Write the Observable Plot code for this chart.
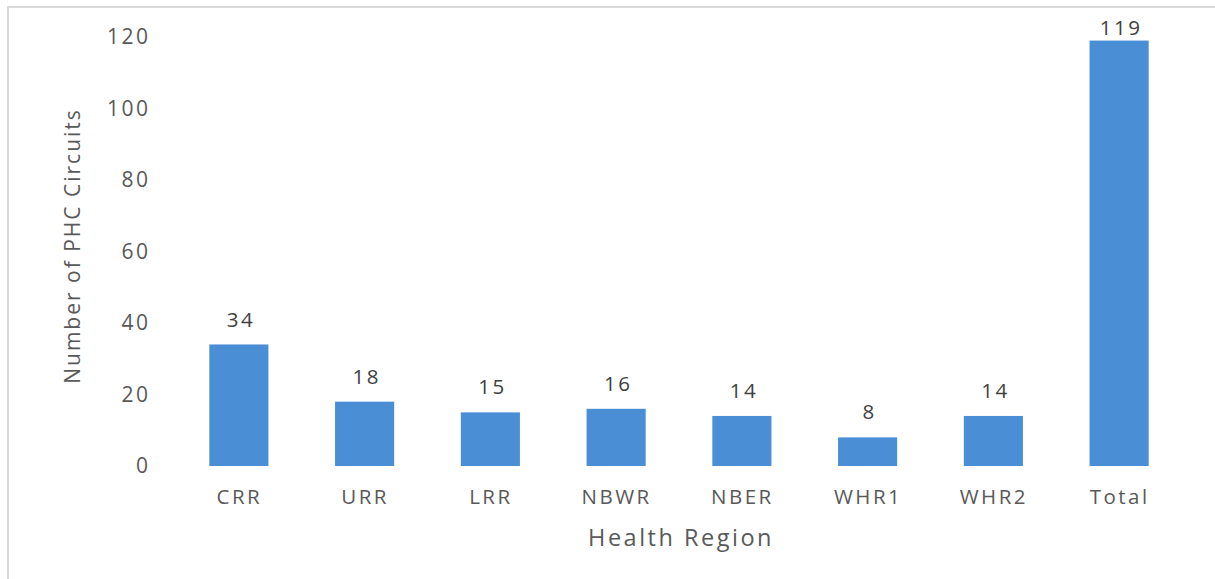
<!DOCTYPE html>
<html>
<head>
<meta charset="utf-8">
<script src="https://cdn.jsdelivr.net/npm/d3@7"></script>
<script src="https://cdn.jsdelivr.net/npm/@observablehq/plot@0.6"></script>
<style>
  html, body { margin: 0; padding: 0; background: #fff; }
  #wrap { position: relative; width: 1215px; height: 579px; overflow: hidden; }
  #frame { position: absolute; left: 7px; top: 6px; width: 1230px; height: 600px; border: 2px solid #d9d9d9; box-sizing: border-box; pointer-events: none; }
  #chart { position: absolute; left: 0; top: 0; }
  #chart svg text { letter-spacing: 2.5px; }
  #chart svg g.ytitle text { letter-spacing: 2px; }
</style>
</head>
<body>
<div id="wrap"><div id="chart"></div><div id="frame"></div></div>
<script>
const regions = ["CRR", "URR", "LRR", "NBWR", "NBER", "WHR1", "WHR2", "Total"];
const circuits = [34, 18, 15, 16, 14, 8, 14, 119];
const yTicks = [0, 20, 40, 60, 80, 100, 120];

const data = regions.map((r, i) => ({region: r, value: circuits[i]}));

const chart = Plot.plot({
  width: 1215,
  height: 579,
  marginLeft: 176,
  marginRight: 33,
  marginTop: 37,
  marginBottom: 113,
  style: {fontFamily: "'Open Sans', sans-serif", background: "transparent"},
  x: {domain: regions, paddingInner: 0.53, paddingOuter: 0.265, round: false, label: null},
  y: {domain: [0, 120], label: null},
  marks: [
    Plot.axisY({ticks: yTicks, tickSize: 0, tickPadding: 26, fontSize: 21, fill: "#595959", label: null}),
    Plot.axisX({tickSize: 0, tickPadding: 23, fontSize: 20.5, fill: "#595959", label: null}),
    Plot.barY(data, {x: "region", y: "value", fill: "#4a8fd6"}),
    Plot.text(data.filter(d => d.value < 110), {x: "region", y: "value", text: d => String(d.value), dy: -25, dx: 1.5, fontSize: 20.5, fill: "#404040"}),
    Plot.text(data.filter(d => d.value >= 110), {x: "region", y: "value", text: d => String(d.value), dy: -13, dx: 1.5, fontSize: 20.5, fill: "#404040"}),
    Plot.text(["Health Region"], {frameAnchor: "bottom", dy: 79, dx: 1.5, fontSize: 23.5, fill: "#595959"}),
    Plot.text(["Number of PHC Circuits"], {frameAnchor: "left", dx: -103, dy: -6, rotate: -90, textAnchor: "middle", fontSize: 21, fill: "#595959", className: "ytitle"})
  ]
});
document.getElementById("chart").appendChild(chart);
</script>
</body>
</html>
